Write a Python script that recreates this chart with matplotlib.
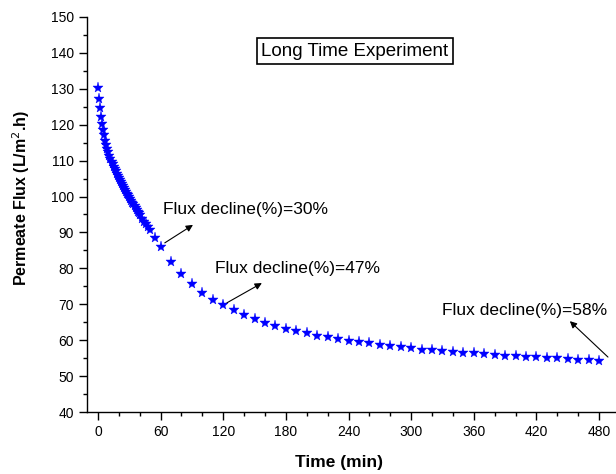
import matplotlib
matplotlib.use('Agg')
import numpy as np
from matplotlib import pyplot as plt
from matplotlib.ticker import MultipleLocator

plt.rcParams['font.family'] = ['Liberation Sans', 'DejaVu Sans']

# time (min) and permeate flux (L/m2.h)
time_min = [0, 1, 2, 3, 4, 5, 6, 7, 8, 9, 10, 11, 12, 13, 14, 15, 16, 17, 18, 19,
            20, 21, 22, 23, 24, 25, 26, 27, 28, 29, 30, 31, 32, 33, 34, 35, 36, 37,
            38, 39, 40, 42, 44, 46, 48, 50, 55,
            60, 70, 80, 90, 100, 110, 120, 130, 140, 150, 160, 170, 180, 190, 200,
            210, 220, 230, 240, 250, 260, 270, 280, 290, 300, 310, 320, 330, 340,
            350, 360, 370, 380, 390, 400, 410, 420, 430, 440, 450, 460, 470, 480]
flux = [130.1, 127.2, 124.6, 122.2, 120.2, 118.5, 117.0, 115.6, 114.4, 113.3,
        112.3, 111.4, 110.5, 109.7, 109.0, 108.3, 107.6, 107.0, 106.3, 105.7,
        105.1, 104.6, 104.0, 103.5, 102.9, 102.4, 101.9, 101.3, 100.8, 100.3,
        99.8, 99.3, 98.8, 98.3, 97.8, 97.3, 96.8, 96.3, 95.8, 95.3,
        94.8, 93.8, 93.0, 92.3, 91.6, 90.8, 88.4,
        85.9, 81.9, 78.5, 75.6, 73.2, 71.3, 69.7, 68.3, 67.0, 65.8, 64.8, 63.9,
        63.1, 62.5, 61.9, 61.3, 60.8, 60.3, 59.9, 59.5, 59.1, 58.7, 58.4, 58.0,
        57.7, 57.4, 57.2, 56.9, 56.7, 56.5, 56.3, 56.1, 55.9, 55.7, 55.6, 55.4,
        55.2, 55.1, 54.9, 54.8, 54.6, 54.4, 54.2]

x_ticks = [0, 60, 120, 180, 240, 300, 360, 420, 480]
y_ticks = [40, 50, 60, 70, 80, 90, 100, 110, 120, 130, 140, 150]

# annotation labels with (text position, arrow tail, arrow head) in data units
notes = [
    ('Flux decline(%)=30%', (62, 96.5), (64, 87.1), (91, 92.1)),
    ('Flux decline(%)=47%', (112, 80.1), (123.5, 70.4), (157, 75.9)),
    ('Flux decline(%)=58%', (329.5, 68.4), (488.5, 55.3), (452, 65.3)),
]

fig = plt.figure(figsize=(6.16, 4.74), dpi=100)
ax = fig.add_axes([87 / 616, 62 / 474, 529 / 616, 395 / 474])

ax.plot(time_min, flux, linestyle='none', marker='*', markersize=8,
        color='#0000ff', markeredgewidth=0.3)

ax.set_xlim(-10.5, 496.2)
ax.set_ylim(40, 150)
ax.set_xticks(x_ticks)
ax.set_yticks(y_ticks)
ax.xaxis.set_minor_locator(MultipleLocator(20))
ax.yaxis.set_minor_locator(MultipleLocator(5))
ax.tick_params(which='major', direction='out', length=6, width=1, labelsize=10)
ax.tick_params(which='minor', direction='out', length=3, width=1)

for side in ['top', 'right']:
    ax.spines[side].set_visible(False)
for side in ['left', 'bottom']:
    ax.spines[side].set_linewidth(1)

ax.set_xlabel('Time (min)', fontsize=12.5, fontweight='bold')
ax.set_ylabel('Permeate Flux (L/m$^{2}$.h)', fontsize=11.5, fontweight='bold')
ax.xaxis.set_label_coords(0.476, -0.110)
ax.yaxis.set_label_coords(-0.104, 0.543)

ax.text(246, 140.5, 'Long Time Experiment', fontsize=13.5, ha='center', va='center',
        bbox=dict(boxstyle='square,pad=0.25', facecolor='white',
                  edgecolor='black', linewidth=1.2))

for label, text_pos, tail, head in notes:
    ax.text(text_pos[0], text_pos[1], label, fontsize=12.5, ha='left', va='center')
    ax.annotate('', xy=head, xytext=tail,
                arrowprops=dict(arrowstyle='-|>', color='black', lw=0.8,
                                mutation_scale=10, shrinkA=0, shrinkB=0))

fig.savefig('out.png', dpi=100)
